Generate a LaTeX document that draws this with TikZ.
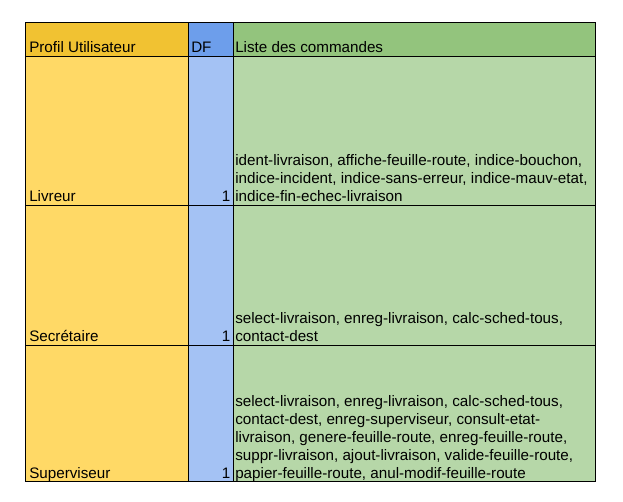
\documentclass[tikz,border=0pt]{standalone}
\usepackage{fontspec}
\setmainfont{Liberation Sans}
\usepackage{tikz}

\definecolor{profilhead}{HTML}{F1C232}
\definecolor{dfhead}{HTML}{6D9EEB}
\definecolor{listehead}{HTML}{93C47D}
\definecolor{profilcell}{HTML}{FFD966}
\definecolor{dfcell}{HTML}{A4C2F4}
\definecolor{listecell}{HTML}{B6D7A8}

\begin{document}
\begin{tikzpicture}[x=0.75pt,y=-0.75pt,
  cell/.style={anchor=base west,inner sep=0pt,align=left,font=\fontsize{11.4}{13.5}\selectfont},
  num/.style={anchor=base east,inner sep=0pt,font=\fontsize{11.4}{13.5}\selectfont},
  grid/.style={black,line width=0.75pt}]

\useasboundingbox (0,0) rectangle (623,501);

\fill[profilhead] (25,22) rectangle (188,56);
\fill[dfhead] (188,22) rectangle (233,56);
\fill[listehead] (233,22) rectangle (595,56);
\fill[profilcell] (25,56) rectangle (188,481);
\fill[dfcell] (188,56) rectangle (233,481);
\fill[listecell] (233,56) rectangle (595,481);

\draw[grid] (25,22) rectangle (595,481);
\draw[grid] (188,22) -- (188,481);
\draw[grid] (233,22) -- (233,481);
\draw[grid] (25,56) -- (595,56);
\draw[grid] (25,205) -- (595,205);
\draw[grid] (25,345) -- (595,345);

\node[cell] (h1) at (29,52.5) {Profil Utilisateur};
\node[cell] (h2) at (191,52.5) {DF};
\node[cell] (h3) at (235,52.5) {Liste des commandes};

\node[cell] (p1) at (29,201.5) {Livreur};
\node[num] (d1) at (230.5,201.5) {1};
\node[cell] (c1) at (235,201.5) {ident-livraison, affiche-feuille-route, indice-bouchon,\\
  indice-incident, indice-sans-erreur, indice-mauv-etat,\\
  indice-fin-echec-livraison};

\node[cell] (p2) at (29,341.5) {Secrétaire};
\node[num] (d2) at (230.5,341.5) {1};
\node[cell] (c2) at (235,341.5) {select-livraison, enreg-livraison, calc-sched-tous,\\
  contact-dest};

\node[cell] (p3) at (29,478.5) {Superviseur};
\node[num] (d3) at (230.5,478.5) {1};
\node[cell] (c3) at (235,478.5) {select-livraison, enreg-livraison, calc-sched-tous,\\
  contact-dest, enreg-superviseur, consult-etat-\\
  livraison, genere-feuille-route, enreg-feuille-route,\\
  suppr-livraison, ajout-livraison, valide-feuille-route,\\
  papier-feuille-route, anul-modif-feuille-route};
\end{tikzpicture}
\end{document}
